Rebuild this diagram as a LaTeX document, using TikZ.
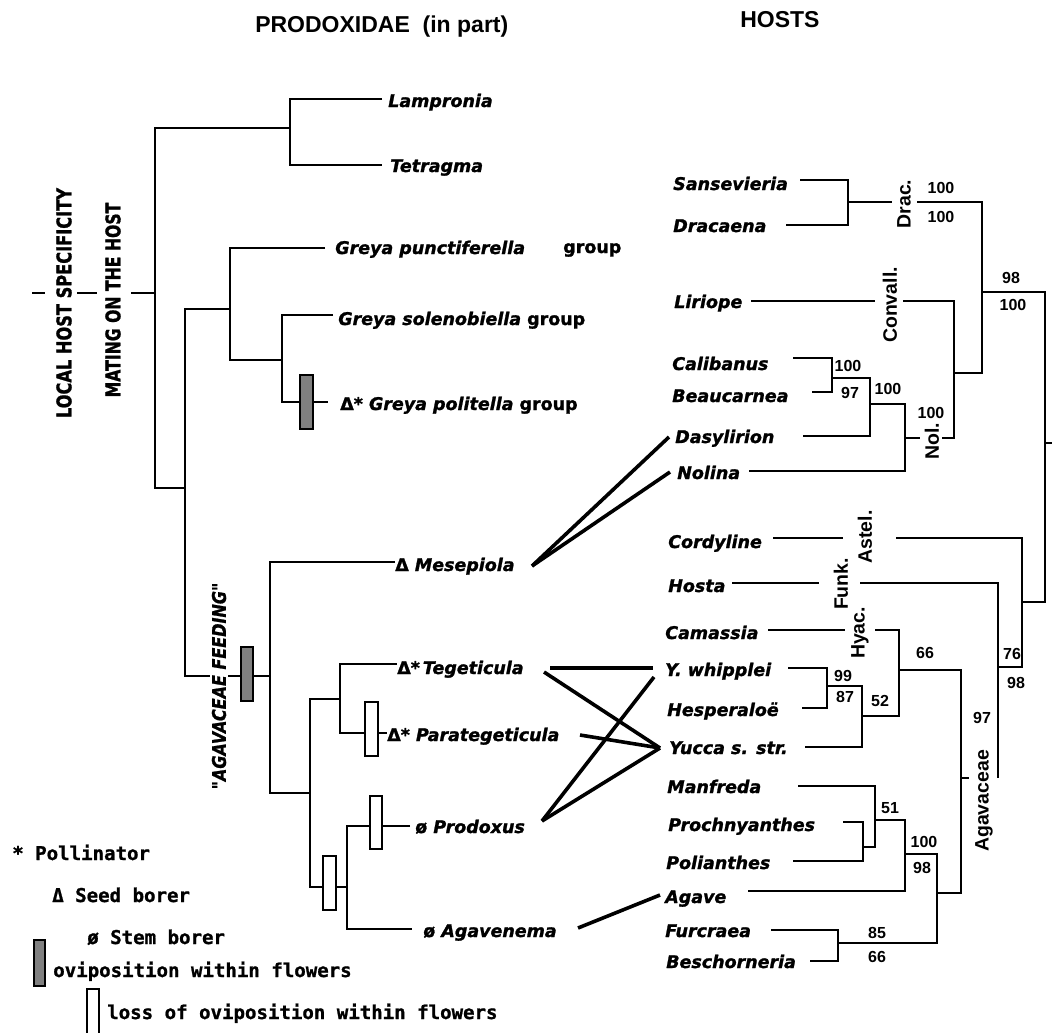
\documentclass[tikz,border=0pt]{standalone}
\usepackage{fontspec}
\usepackage{graphicx}
\newfontfamily\dvs{DejaVu Sans}
\newfontfamily\taxf{DejaVu Sans Bold Oblique}[FakeBold=1.3]
\newfontfamily\taxu{DejaVu Sans Bold}[FakeBold=1.3]
\newfontfamily\lib{Liberation Sans}
\newfontfamily\legf{DejaVu Sans Mono Bold}[FakeBold=1]
\begin{document}
\begin{tikzpicture}[x=0.75pt,y=-0.75pt,
  br/.style={line width=2pt, line join=miter},
  assoc/.style={line width=2.7pt},
  tax/.style={font=\fontsize{13.1pt}{15pt}\taxf, inner sep=0pt, anchor=base west},
  hdr/.style={font=\fontsize{17.25pt}{20pt}\lib\bfseries, inner sep=0pt, anchor=base west},
  num/.style={font=\fontsize{12pt}{14pt}\lib\bfseries, inner sep=0pt},
  fam/.style={font=\fontsize{14.6pt}{16pt}\lib\bfseries, inner sep=0pt, rotate=90},
  leg/.style={font=\fontsize{14.3pt}{16pt}\legf, inner sep=0pt, anchor=base west},
  shbox/.style={draw, line width=1.4pt, fill=gray},
  opbox/.style={draw, line width=1.4pt, fill=white}]
\useasboundingbox[fill=white] (0,0) rectangle (1052,1032);

% headers
\node[hdr] (h1) at (255,32) {PRODOXIDAE\ \ (in part)};
\node[hdr] (h2) at (740,27) {HOSTS};

% ---------- left tree ----------
\draw[br] (32,293) -- (45,293);
\draw[br] (77,293) -- (97,293);
\draw[br] (131,293) -- (155,293);
\draw[br] (382,99) -- (290,99) -- (290,165) -- (382,165);
\draw[br] (290,128) -- (155,128) -- (155,488) -- (185,488);
\draw[br] (325,248) -- (230,248) -- (230,360) -- (282,360);
\draw[br] (333,315) -- (282,315) -- (282,402) -- (328,402);
\draw[br] (230,309) -- (185,309) -- (185,676) -- (270,676);
\draw[br] (395,562) -- (270,562) -- (270,793) -- (310,793);
\draw[br] (340,699) -- (310,699) -- (310,887) -- (347,887);
\draw[br] (397,664) -- (340,664) -- (340,733) -- (387,733);
\draw[br] (410,826) -- (347,826) -- (347,929) -- (412,929);

\node[rotate=90, inner sep=0pt] (lhs) at (64,303) {\resizebox{172.5pt}{11.25pt}{\taxu LOCAL HOST SPECIFICITY}};
\node[rotate=90, inner sep=0pt] (moh) at (113,300) {\resizebox{146pt}{11.25pt}{\taxu MATING ON THE HOST}};
\node[rotate=90, inner sep=1.5pt, fill=white] (agf) at (219,686) {\resizebox{155pt}{10.5pt}{\taxf "AGAVACEAE FEEDING"}};

% character boxes
\draw[shbox] (300,375) rectangle (313,429);
\draw[shbox] (241,647) rectangle (253,701);
\draw[opbox] (365,702) rectangle (378,756);
\draw[opbox] (370,796) rectangle (382,849);
\draw[opbox] (323,856) rectangle (336,910);

% left taxa
\node[tax] (lam) at (388,107) {Lampronia};
\node[tax] (tet) at (390,172) {Tetragma};
\node[tax] (gpu) at (335,254) {Greya punctiferella};
\node[tax] (grp) at (563,253) {\taxu group};
\node[tax] (gso) at (338,325) {Greya solenobiella {\taxu group}};
\node[tax] (gpo) at (340,410) {{\taxu Δ*} Greya politella {\taxu group}};
\node[tax] (mes) at (395,571) {{\taxu Δ} Mesepiola};
\node[tax] (teg) at (397,674) {{\taxu Δ*}\,Tegeticula};
\node[tax] (par) at (387,741) {{\taxu Δ*} Parategeticula};
\node[tax] (pro) at (415,833) {{\taxu ø} Prodoxus};
\node[tax] (agn) at (423,937) {{\taxu ø} Agavenema};

% ---------- host tree ----------
\draw[br] (800,180) -- (848,180) -- (848,225) -- (786,225);
\draw[br] (848,202) -- (892,202);
\draw[br] (917,202) -- (982,202) -- (982,373) -- (954,373);
\draw[br] (751,301) -- (875,301);
\draw[br] (903,301) -- (954,301) -- (954,438) -- (942,438);
\draw[br] (905,438) -- (920,438);
\draw[br] (982,292) -- (1045,292) -- (1045,602) -- (1022,602);
\draw[br] (1045,443) -- (1056,443);
\draw[br] (793,358) -- (832,358) -- (832,392) -- (812,392);
\draw[br] (832,378) -- (870,378) -- (870,436) -- (803,436);
\draw[br] (870,404) -- (905,404) -- (905,471) -- (749,471);
\draw[br] (773,538) -- (843,538);
\draw[br] (896,538) -- (1022,538) -- (1022,667) -- (998,667);
\draw[br] (732,583) -- (819,583);
\draw[br] (860,583) -- (998,583) -- (998,778);
\draw[br] (961,778) -- (969,778);
\draw[br] (768,630) -- (845,630);
\draw[br] (875,630) -- (899,630) -- (899,716) -- (862,716);
\draw[br] (788,668) -- (827,668) -- (827,708) -- (802,708);
\draw[br] (827,686) -- (862,686) -- (862,747) -- (805,747);
\draw[br] (899,670) -- (961,670) -- (961,893) -- (937,893);
\draw[br] (798,786) -- (875,786) -- (875,847) -- (863,847);
\draw[br] (843,822) -- (863,822) -- (863,861) -- (793,861);
\draw[br] (875,820) -- (905,820) -- (905,891) -- (748,891);
\draw[br] (905,854) -- (937,854) -- (937,943) -- (838,943);
\draw[br] (771,930) -- (838,930) -- (838,961) -- (810,961);

% family labels
\node[fam] (drac) at (904,204) {Drac.};
\node[fam] (conv) at (890,305) {Convall.};
\node[fam] (nolf) at (932,441) {Nol.};
\node[fam] (astf) at (865,537) {Astel.};
\node[fam] (funk) at (841,584) {Funk.};
\node[fam] (hyac) at (860,633) {Hyac.};
\node[fam] (agvf) at (984,801) {Agavaceae};

% support values
\node[num] (n1) at (941,188) {100};
\node[num] (n2) at (941,217) {100};
\node[num] (n3) at (1011,278) {98};
\node[num] (n4) at (1013,305) {100};
\node[num] (n5) at (848,366) {100};
\node[num] (n6) at (850,393) {97};
\node[num] (n7) at (888,389) {100};
\node[num] (n8) at (931,413) {100};
\node[num] (n9) at (1012,654) {76};
\node[num] (n10) at (1016,683) {98};
\node[num] (n11) at (982,718) {97};
\node[num] (n12) at (925,653) {66};
\node[num] (n13) at (843,676) {99};
\node[num] (n14) at (845,697) {87};
\node[num] (n15) at (880,701) {52};
\node[num] (n16) at (890,808) {51};
\node[num] (n17) at (924,842) {100};
\node[num] (n18) at (922,868) {98};
\node[num] (n19) at (877,933) {85};
\node[num] (n20) at (877,957) {66};

% host taxa
\node[tax] (san) at (673,190) {Sansevieria};
\node[tax] (dra) at (673,232) {Dracaena};
\node[tax] (lir) at (674,308) {Liriope};
\node[tax] (cal) at (672,370) {Calibanus};
\node[tax] (bea) at (672,402) {Beaucarnea};
\node[tax] (das) at (675,443) {Dasylirion};
\node[tax] (nol) at (677,479) {Nolina};
\node[tax] (cor) at (668,548) {Cordyline};
\node[tax] (hos) at (668,592) {Hosta};
\node[tax] (cam) at (665,639) {Camassia};
\node[tax] (ywh) at (665,676) {Y. whipplei};
\node[tax] (hes) at (667,716) {Hesperaloë};
\node[tax] (yuc) at (669,754) {Yucca s. str.};
\node[tax] (man) at (667,793) {Manfreda};
\node[tax] (prc) at (668,831) {Prochnyanthes};
\node[tax] (pol) at (666,869) {Polianthes};
\node[tax] (agv) at (665,903) {Agave};
\node[tax] (fur) at (665,937) {Furcraea};
\node[tax] (bes) at (666,968) {Beschorneria};

% associations
\coordinate (mesR) at (532,566);
\coordinate (dasL) at (669,437);
\coordinate (nolL) at (670,472);
\coordinate (tegR) at (550,668);
\coordinate (tegR2) at (544,672);
\coordinate (ywhL) at (653,668);
\coordinate (ywhL2) at (654,677);
\coordinate (yucL) at (660,748);
\coordinate (parR) at (580,735);
\coordinate (proR) at (542,821);
\coordinate (agnR) at (578,928);
\coordinate (agvL) at (660,895);
\draw[assoc] (mesR) -- (dasL);
\draw[assoc] (mesR) -- (nolL);
\draw[assoc] (tegR) -- (ywhL);
\draw[assoc] (tegR2) -- (yucL);
\draw[assoc] (parR) -- (yucL);
\draw[assoc] (proR) -- (ywhL2);
\draw[assoc] (proR) -- (yucL);
\draw[assoc] (agnR) -- (agvL);

% legend
\node[leg] (l1) at (12,860) {* Pollinator};
\node[leg] (l2) at (52,902) {Δ Seed borer};
\node[leg] (l3) at (87,944) {ø Stem borer};
\draw[shbox] (34,940) rectangle (45,986);
\node[leg] (l4) at (53,977) {oviposition within flowers};
\draw[line width=1.4pt] (87,1036) -- (87,989) -- (99,989) -- (99,1036);
\node[leg] (l5) at (107,1019) {loss of oviposition within flowers};
\end{tikzpicture}
\end{document}
